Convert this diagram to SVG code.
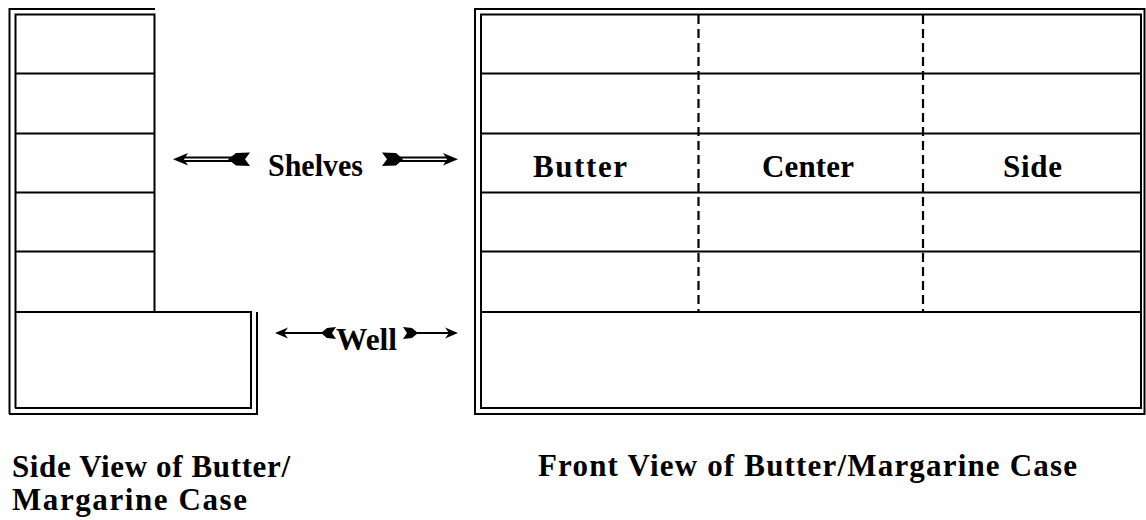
<svg xmlns="http://www.w3.org/2000/svg" width="1146" height="520" viewBox="0 0 1146 520">
<style>
.ln{stroke:#000;stroke-width:2;fill:none}
.dash{stroke:#000;stroke-width:2.2;fill:none;stroke-dasharray:9 5}
.t{font-family:"Liberation Serif","Times New Roman",serif;font-weight:bold;font-size:31px;fill:#000}
.fl{fill:#000}
</style>
<rect width="1146" height="520" fill="#fff"/>
<g id="side-view">
<path class="ln" d="M9.5,414 V9 H155"/>
<path class="ln" d="M9,414 H257 V312"/>
<path class="ln" d="M15.5,408 V14.5 H154.5 V312"/>
<path class="ln" d="M15,408 H251 V312 H15"/>
<path class="ln" d="M15,73.5 H154.5 M15,133.5 H154.5 M15,192.5 H154.5 M15,251.5 H154.5"/>
</g>
<g id="front-view">
<rect class="ln" x="475" y="9" width="669.5" height="405"/>
<rect class="ln" x="481" y="14.5" width="660" height="393.5"/>
<path class="ln" d="M481,73.5 H1141 M481,133.5 H1141 M481,192.5 H1141 M481,251.5 H1141 M481,312 H1141"/>
<path class="dash" d="M698.5,15 V312 M923,15 V312"/>
<text class="t" x="533" y="177" textLength="94" lengthAdjust="spacing">Butter</text>
<text class="t" x="762" y="177" textLength="92" lengthAdjust="spacing">Center</text>
<text class="t" x="1003" y="177" textLength="59" lengthAdjust="spacing">Side</text>
</g>
<g id="connectors">
<g id="shelves-arrows">
<path class="ln" stroke-width="1.2" d="M184,157.5 H232 M184,161 H232"/>
<polygon class="fl" points="173,159.3 188,153 184,159.3 188,165.5"/>
<polygon class="fl" points="228,159.3 236,153 250,152.5 245,159.3 250,166 236,165.5"/>
<path class="ln" stroke-width="1.2" d="M398,157.5 H447 M398,161 H447"/>
<polygon class="fl" points="458,159.3 443,153 447,159.3 443,165.5"/>
<polygon class="fl" points="382,152.5 387,159.3 382,166 396,165.5 403,159.3 396,153"/>
</g>
<g id="well-arrows">
<path class="ln" d="M282,333 H326"/>
<polygon class="fl" points="275,333 288,327.5 284,333 288,338.5"/>
<polygon class="fl" points="321,333 327,328 336,327 332,333 336,339 327,338"/>
<path class="ln" d="M410,333 H452"/>
<polygon class="fl" points="458,333 445,327.5 449,333 445,338.5"/>
<polygon class="fl" points="403,327 407,333 403,339 412,338 418,333 412,328"/>
</g>
</g>
<g id="labels">
<text class="t" x="268" y="176" textLength="95" lengthAdjust="spacingAndGlyphs">Shelves</text>
<text class="t" x="336" y="350" textLength="61" lengthAdjust="spacingAndGlyphs">Well</text>
<text class="t" x="12" y="477" textLength="278" lengthAdjust="spacing">Side View of Butter/</text>
<text class="t" x="12" y="510" textLength="235" lengthAdjust="spacing">Margarine Case</text>
<text class="t" x="538" y="476" textLength="539" lengthAdjust="spacing">Front View of Butter/Margarine Case</text>
</g>
</svg>
